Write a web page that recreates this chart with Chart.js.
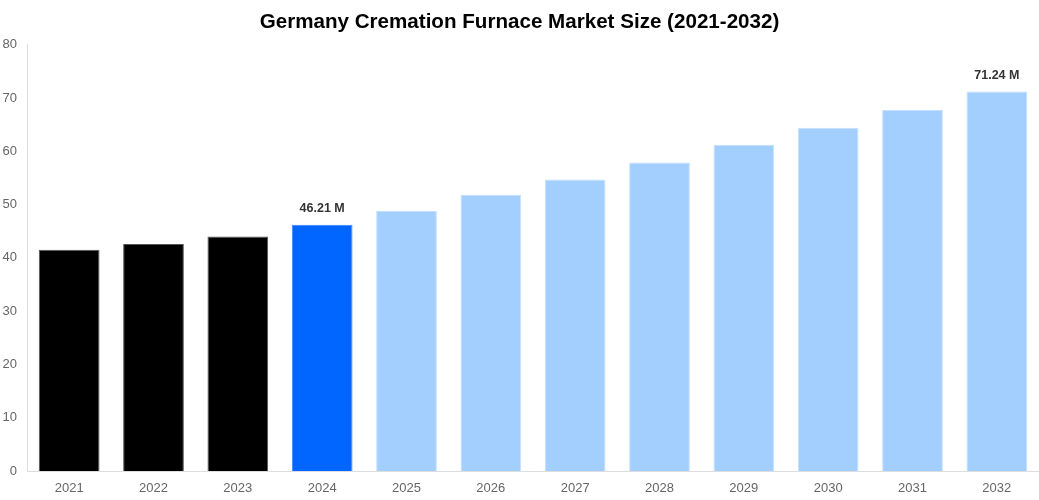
<!DOCTYPE html>
<html><head><meta charset="utf-8">
<script src="https://cdn.jsdelivr.net/npm/chart.js@4.4.1/dist/chart.umd.min.js"></script>
<style>html,body{margin:0;padding:0;background:#fff;}#wrap{width:1039px;height:500px;}</style>
</head><body><div id="wrap"><canvas id="c"></canvas></div>
<script>
const categories = ['2021','2022','2023','2024','2025','2026','2027','2028','2029','2030','2031','2032'];
const values = [41.5, 42.6, 44.0, 46.21, 48.8, 51.8, 54.7, 57.9, 61.2, 64.4, 67.8, 71.24];
const labelIndices = [3, 11];
const labelTexts = ['46.21 M', '71.24 M'];
const fillColors = ['#000000','#000000','#000000','#0066ff','#a3cfff','#a3cfff','#a3cfff','#a3cfff','#a3cfff','#a3cfff','#a3cfff','#a3cfff'];
const borderColors = ['#555555','#555555','#555555','#3388ff','#c4e0ff','#c4e0ff','#c4e0ff','#c4e0ff','#c4e0ff','#c4e0ff','#c4e0ff','#c4e0ff'];

const FONT = '"Liberation Sans", Arial, sans-serif';
const labelPlugin = {
  id: 'valLabels',
  afterDatasetsDraw(chart) {
    const ctx = chart.ctx;
    const meta = chart.getDatasetMeta(0);
    ctx.save();
    ctx.font = 'bold 12.5px ' + FONT;
    ctx.fillStyle = '#333333';
    ctx.textAlign = 'center';
    ctx.textBaseline = 'bottom';
    labelIndices.forEach((idx, k) => {
      const el = meta.data[idx];
      ctx.fillText(labelTexts[k], el.x, el.y - 10);
    });
    ctx.restore();
  }
};

new Chart(document.getElementById('c'), {
  type: 'bar',
  data: {
    labels: categories,
    datasets: [{
      data: values,
      backgroundColor: fillColors,
      borderColor: borderColors,
      borderWidth: 1,
      barPercentage: 0.9,
      categoryPercentage: 0.8
    }]
  },
  options: {
    responsive: true,
    maintainAspectRatio: false,
    animation: false,
    layout: { padding: 0 },
    plugins: {
      legend: { display: false },
      tooltip: { enabled: false },
      title: {
        display: true,
        text: 'Germany Cremation Furnace Market Size (2021-2032)',
        color: '#000000',
        font: { family: FONT, size: 20.6, weight: 'bold' },
        padding: { top: 10, bottom: 10 }
      }
    },
    scales: {
      x: {
        grid: { display: false, drawTicks: false },
        border: { display: true, color: '#dddddd' },
        ticks: { color: '#666666', font: { family: FONT, size: 13 }, padding: 10 },
        afterFit(s) { s.height = 29; }
      },
      y: {
        min: 0, max: 80,
        grid: { display: false, drawTicks: false },
        border: { display: true, color: '#dddddd' },
        ticks: { stepSize: 10, color: '#666666', font: { family: FONT, size: 13 }, padding: 10 },
        afterFit(s) { s.width = 27; }
      }
    }
  },
  plugins: [labelPlugin]
});
</script></body></html>
